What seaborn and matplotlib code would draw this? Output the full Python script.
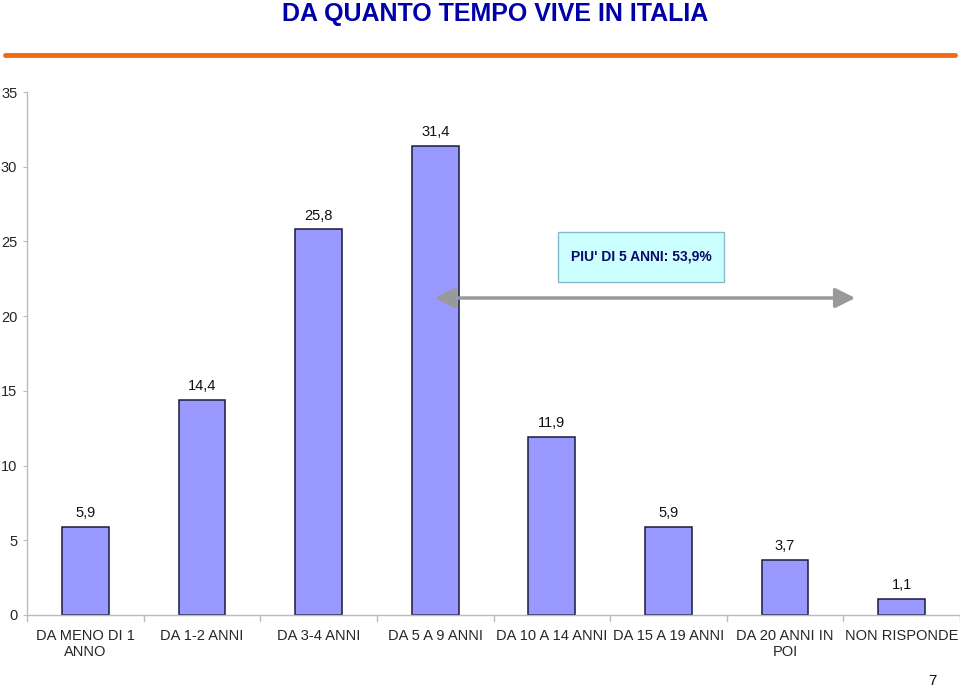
import matplotlib
matplotlib.use("Agg")
import matplotlib.pyplot as plt
import seaborn as sns
import pandas as pd
from matplotlib.patches import Rectangle, FancyArrowPatch
from matplotlib.lines import Line2D

categories = ["DA MENO DI 1\nANNO", "DA 1-2 ANNI", "DA 3-4 ANNI", "DA 5 A 9 ANNI",
              "DA 10 A 14 ANNI", "DA 15 A 19 ANNI", "DA 20 ANNI IN\nPOI", "NON RISPONDE"]
values = [5.9, 14.4, 25.8, 31.4, 11.9, 5.9, 3.7, 1.1]
value_labels = ["5,9", "14,4", "25,8", "31,4", "11,9", "5,9", "3,7", "1,1"]
yticks = [0, 5, 10, 15, 20, 25, 30, 35]
title = "DA QUANTO TEMPO VIVE IN ITALIA"
box_text = "PIU' DI 5 ANNI: 53,9%"
page_no = "7"

sns.set_style("white")
plt.rcParams['font.family'] = ['Liberation Sans', 'DejaVu Sans']

W, H = 960, 687
fig = plt.figure(figsize=(9.6, 6.87), dpi=100)
ax = fig.add_axes([27 / W, (H - 615) / H, 933 / W, 523 / H])

df = pd.DataFrame({"cat": categories, "val": values})
sns.barplot(data=df, x="cat", y="val", ax=ax, color="#9999FF", saturation=1,
            width=0.4, edgecolor="#1a1a3a", linewidth=1.1)

for i, (v, lab) in enumerate(zip(values, value_labels)):
    ax.text(i, v + 0.45, lab, ha="center", va="bottom", fontsize=10.5, color="#111111")

ax.set_ylim(0, 35)
ax.set_xlim(-0.5, 7.5)
ax.set_yticks(yticks)
ax.set_yticklabels([str(t) for t in yticks], fontsize=10.5)
ax.set_xlabel("")
ax.set_ylabel("")
ax.tick_params(axis="x", length=0, pad=10, labelsize=10.5)
ax.tick_params(axis="y", length=3, color="#bbbbbb", pad=4, left=True)
for s in ["top", "right"]:
    ax.spines[s].set_visible(False)
for s in ["left", "bottom"]:
    ax.spines[s].set_color("#bbbbbb")
    ax.spines[s].set_linewidth(1)
# category boundary ticks on x axis
for b in [i + 0.5 for i in range(-1, len(categories))]:
    ax.plot([b, b], [0, -0.4], color="#bbbbbb", lw=1, clip_on=False)

# title
fig.text(495 / W, 1 - 14 / H, title, ha="center", va="center", fontsize=18,
         fontweight="bold", color="#0000A8")
# orange rule
fig.add_artist(Line2D([5 / W, 955 / W], [1 - 55 / H, 1 - 55 / H], color="#F26A12", lw=3.5))

# info box
fig.add_artist(Rectangle((558 / W, 1 - 282 / H), 166 / W, 50 / H, facecolor="#CCFFFF",
                         edgecolor="#88BBCC", lw=1, transform=fig.transFigure))
fig.text(641 / W, 1 - 257 / H, box_text, ha="center", va="center", fontsize=10,
         fontweight="bold", color="#0A0A6A")

# double arrow
fig.add_artist(FancyArrowPatch(
    (432 / W, 1 - 298 / H), (858 / W, 1 - 298 / H), transform=fig.transFigure,
    arrowstyle="<|-|>,head_length=10,head_width=5", mutation_scale=1.2,
    color="#999999", lw=2.5))

fig.text(932 / W, 1 - 681 / H, page_no, ha="center", va="center", fontsize=11, color="#111111")

fig.savefig("out.png", dpi=100)
